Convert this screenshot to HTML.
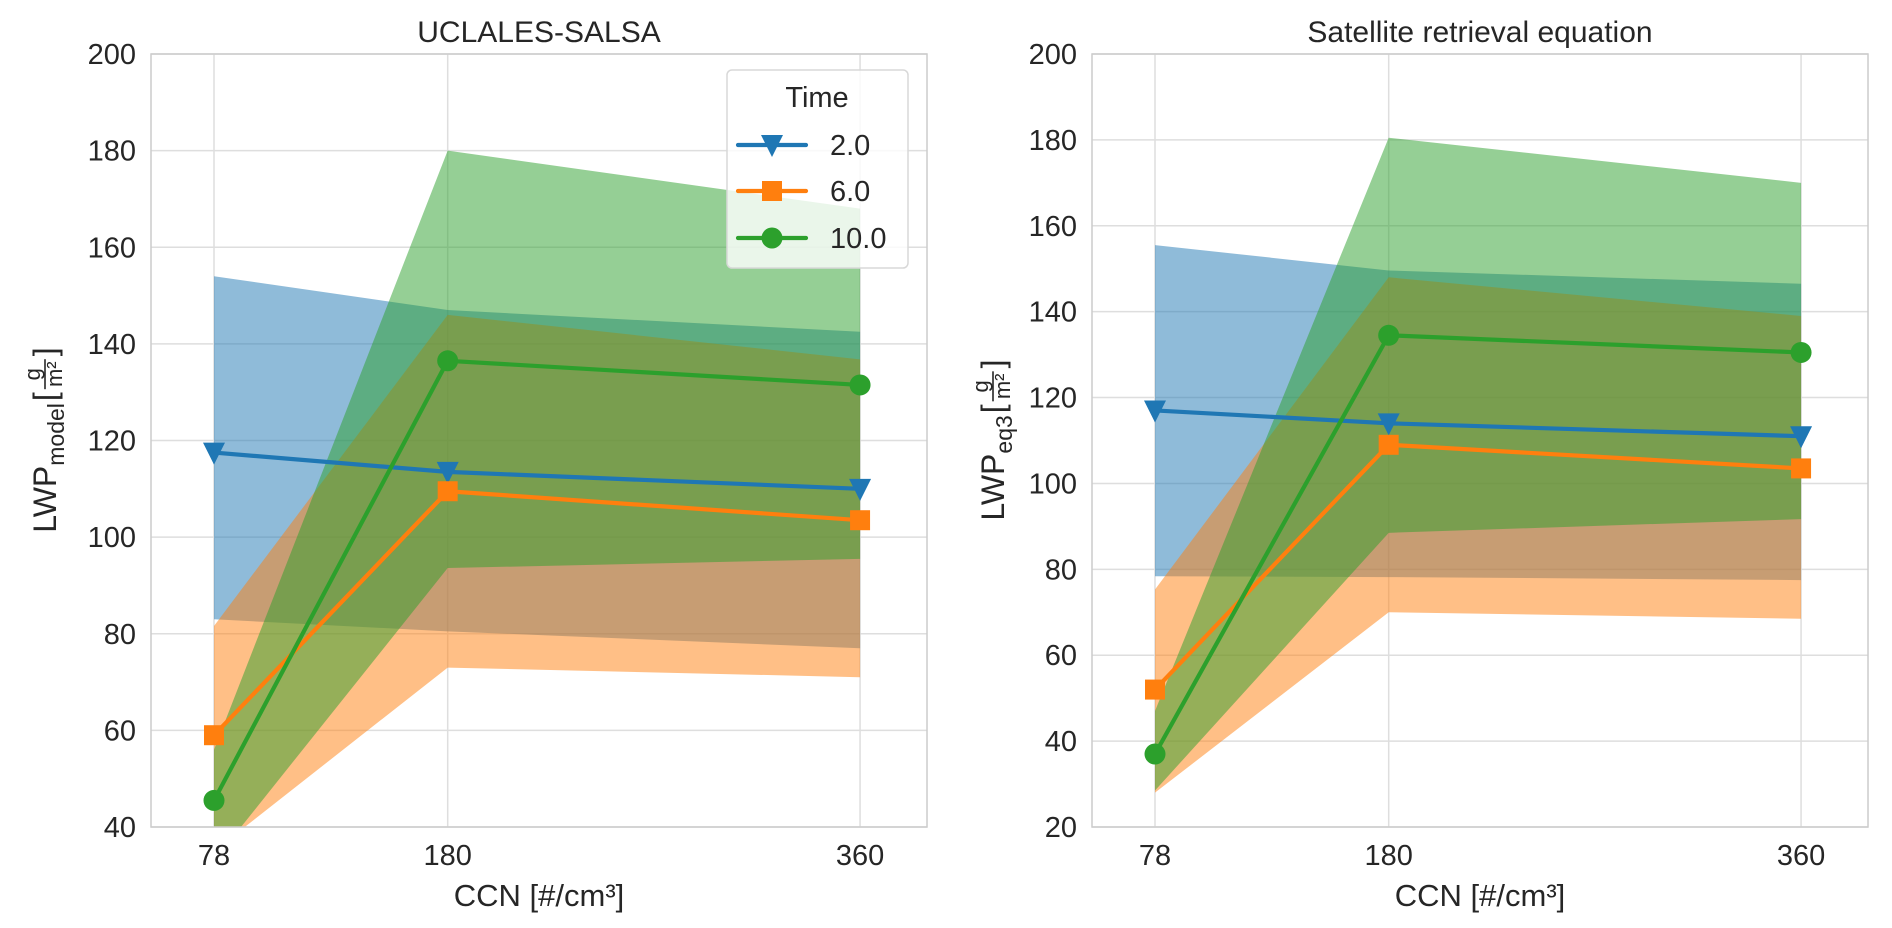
<!DOCTYPE html>
<html><head><meta charset="utf-8"><style>
html,body{margin:0;padding:0;background:#fff;}
svg{display:block;font-family:"Liberation Sans",Arial,sans-serif;}
</style></head><body>
<svg id="fig" width="1892" height="928" viewBox="0 0 1892 928" xmlns="http://www.w3.org/2000/svg">
<defs>
<clipPath id="clipL"><rect x="151" y="54" width="776" height="773"/></clipPath>
<clipPath id="clipR"><rect x="1092" y="54" width="776" height="773"/></clipPath>
</defs>
<g id="left"></g>
<g id="right"></g>
</svg>
<script>
const categories = [78, 180, 360];
const seriesNames = ["2.0", "6.0", "10.0"];
// left panel (UCLALES-SALSA)
const leftBlueMean = [117.5, 113.5, 110];
const leftBlueLow = [83, 80.5, 77];
const leftBlueHigh = [154, 147, 142.5];
const leftOrangeMean = [59, 109.5, 103.5];
const leftOrangeLow = [35, 73, 71];
const leftOrangeHigh = [81.6, 146, 136.8];
const leftGreenMean = [45.5, 136.5, 131.5];
const leftGreenLow = [33, 93.6, 95.5];
const leftGreenHigh = [56, 180, 168];
const leftYTicks = [40, 60, 80, 100, 120, 140, 160, 180, 200];
// right panel (Satellite retrieval equation)
const rightBlueMean = [117, 114, 111];
const rightBlueLow = [78.4, 78.2, 77.5];
const rightBlueHigh = [155.5, 149.6, 146.5];
const rightOrangeMean = [52, 109, 103.5];
const rightOrangeLow = [28, 70, 68.5];
const rightOrangeHigh = [75.3, 148, 139];
const rightGreenMean = [37, 134.5, 130.5];
const rightGreenLow = [28.5, 88.5, 91.7];
const rightGreenHigh = [47, 180.5, 170];
const rightYTicks = [20, 40, 60, 80, 100, 120, 140, 160, 180, 200];
const xTicks = [78, 180, 360];

const NS = "http://www.w3.org/2000/svg";
const COLORS = ["#1f77b4", "#ff7f0e", "#2ca02c"];
function mk(tag, attrs, parent) {
  const e = document.createElementNS(NS, tag);
  for (const k in attrs) e.setAttribute(k, attrs[k]);
  parent.appendChild(e);
  return e;
}
function marker(kind, cx, cy, color, parent) {
  let m;
  if (kind === 0) {
    m = mk("polygon", {points: `${cx-11},${cy-10} ${cx+11},${cy-10} ${cx},${cy+12}`, fill: color}, parent);
  } else if (kind === 1) {
    m = mk("rect", {x: cx-10, y: cy-10, width: 20, height: 20, fill: color}, parent);
  } else {
    m = mk("circle", {cx: cx, cy: cy, r: 10.5, fill: color}, parent);
  }
  return m;
}
function ylabel(g, bx, sub) {
  const yl = mk("g", {transform: `translate(${bx},440) rotate(-90)`}, g);
  
  
  const inner = mk("g", {}, yl);
  let x = 0;
  const put = (txt, size, dy) => {
    const t = mk("text", {x: x, y: dy, "font-size": size, fill: "#262626"}, inner);
    t.textContent = txt;
    const w = t.getComputedTextLength();
    x += w;
    return w;
  };
  put("LWP", 32, 0);
  put(sub, 23, 8);
  x += 2;
  put("[", 32, 0);
  x += 3;
  const fx = x + 15;
  const g1 = mk("text", {x: fx, y: -16, "text-anchor": "middle", "font-size": 22, fill: "#262626"}, inner); g1.textContent = "g";
  mk("line", {x1: fx - 15, x2: fx + 15, y1: -11, y2: -11, stroke: "#262626", "stroke-width": 1.6}, inner);
  const g2 = mk("text", {x: fx, y: 6, "text-anchor": "middle", "font-size": 22, fill: "#262626"}, inner); g2.textContent = "m²";
  x += 33;
  put("]", 32, 0);
  inner.setAttribute("transform", `translate(${-x / 2},0)`);
}
function panel(g, x0, x1, yMin, yMax, yTicks, clip, title, means, lows, highs, sub) {
  const top = 54, bot = 827;
  const xMinV = 78 - (214 - 151) / 2.291;
  const sx = v => x0 + (v - xMinV) * 2.291;
  const sy = v => bot - (v - yMin) / (yMax - yMin) * (bot - top);
  for (const t of yTicks) {
    const l = mk("line", {x1: x0, x2: x1, y1: sy(t), y2: sy(t), stroke: "#dedede", "stroke-width": 1.5}, g);
    
    
    const tx = mk("text", {x: x0 - 15, y: sy(t) + 10, "text-anchor": "end", "font-size": 29, fill: "#262626"}, g);
    tx.textContent = t;
    
    
  }
  for (const t of xTicks) {
    const l = mk("line", {x1: sx(t), x2: sx(t), y1: top, y2: bot, stroke: "#dedede", "stroke-width": 1.5}, g);
    
    
    const tx = mk("text", {x: sx(t), y: 865, "text-anchor": "middle", "font-size": 29, fill: "#262626"}, g);
    tx.textContent = t;
    
    
  }
  const cg = mk("g", {"clip-path": `url(#${clip})`}, g);
  for (let s = 0; s < 3; s++) {
    let d = "";
    categories.forEach((c, i) => { d += (i ? "L" : "M") + sx(c) + "," + sy(highs[s][i]); });
    for (let i = categories.length - 1; i >= 0; i--) d += "L" + sx(categories[i]) + "," + sy(lows[s][i]);
    const p = mk("path", {d: d + "Z", fill: COLORS[s], "fill-opacity": 0.5}, cg);
    
    
  }
  for (let s = 0; s < 3; s++) {
    const pts = categories.map((c, i) => sx(c) + "," + sy(means[s][i])).join(" ");
    const pl = mk("polyline", {points: pts, fill: "none", stroke: COLORS[s], "stroke-width": 4.2, "stroke-linejoin": "round"}, cg);
    
    
    categories.forEach((c, i) => {
      const m = marker(s, sx(c), sy(means[s][i]), COLORS[s], g);
      
      
    });
  }
  const fr = mk("rect", {x: x0, y: top, width: x1 - x0, height: bot - top, fill: "none", stroke: "#cccccc", "stroke-width": 1.5}, g);
  
  
  const ti = mk("text", {x: (x0 + x1) / 2, y: 42, "text-anchor": "middle", "font-size": 30, fill: "#262626"}, g);
  ti.textContent = title;
  
  
  const xl = mk("text", {x: (x0 + x1) / 2, y: 906, "text-anchor": "middle", "font-size": 31, fill: "#262626"}, g);
  xl.textContent = "CCN [#/cm³]";
  
  
  ylabel(g, x0 === 151 ? 56 : 1004, sub);
}
panel(document.getElementById("left"), 151, 927, 40, 200, leftYTicks, "clipL", "UCLALES-SALSA",
  [leftBlueMean, leftOrangeMean, leftGreenMean], [leftBlueLow, leftOrangeLow, leftGreenLow], [leftBlueHigh, leftOrangeHigh, leftGreenHigh], "model");
panel(document.getElementById("right"), 1092, 1868, 20, 200, rightYTicks, "clipR", "Satellite retrieval equation",
  [rightBlueMean, rightOrangeMean, rightGreenMean], [rightBlueLow, rightOrangeLow, rightGreenLow], [rightBlueHigh, rightOrangeHigh, rightGreenHigh], "eq3");

// legend
const lg = document.getElementById("left");
const box = mk("rect", {x: 727, y: 70, width: 181, height: 198, rx: 5, fill: "#ffffff", "fill-opacity": 0.8, stroke: "#d8d8d8", "stroke-width": 1.5}, lg);


const lt = mk("text", {x: 817, y: 107, "text-anchor": "middle", "font-size": 29, fill: "#262626"}, lg);
lt.textContent = "Time";


[145, 191, 238].forEach((yy, s) => {
  const ln = mk("line", {x1: 738, x2: 806, y1: yy, y2: yy, stroke: COLORS[s], "stroke-width": 4.2, "stroke-linecap": "round"}, lg);
  
  
  marker(s, 772, yy, COLORS[s], lg);
  const tx = mk("text", {x: 830, y: yy + 10, "font-size": 29, fill: "#262626"}, lg);
  tx.textContent = seriesNames[s];
  
  
});
</script>
</body></html>
